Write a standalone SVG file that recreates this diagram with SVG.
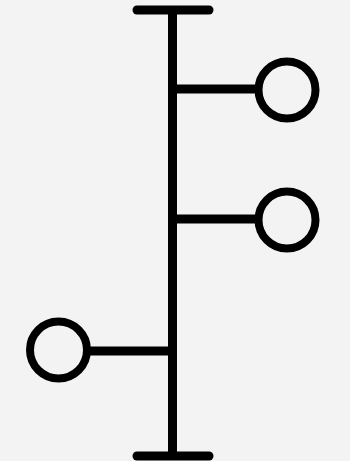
<svg xmlns="http://www.w3.org/2000/svg" width="350" height="461" viewBox="0 0 350 461">
<style>
.l{stroke:#000;stroke-width:9;stroke-linecap:round;fill:none}
.c{stroke:#000;stroke-width:8;fill:#f3f3f3}
</style>
<rect width="350" height="461" fill="#f3f3f3"/>
<g id="connectors">
<line class="l" x1="172.5" y1="10" x2="172.5" y2="456" style="stroke-linecap:butt"/>
<line class="l" x1="137" y1="10" x2="209" y2="10"/>
<line class="l" x1="137" y1="456" x2="209" y2="456"/>
<line class="l" x1="172.5" y1="89" x2="258" y2="89" style="stroke-linecap:butt"/>
<line class="l" x1="172.5" y1="219" x2="258" y2="219" style="stroke-linecap:butt"/>
<line class="l" x1="88" y1="351" x2="172.5" y2="351" style="stroke-linecap:butt"/>
</g>
<g id="n1"><circle class="c" cx="287" cy="90" r="28.5"/></g>
<g id="n2"><circle class="c" cx="287" cy="220" r="28.5"/></g>
<g id="n3"><circle class="c" cx="58.5" cy="350" r="28.5"/></g>
</svg>
